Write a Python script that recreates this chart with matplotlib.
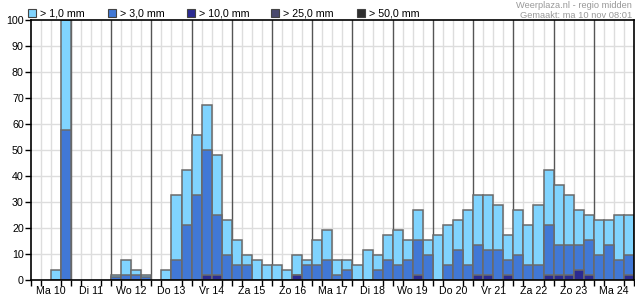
import matplotlib
matplotlib.use("Agg")
import matplotlib.pyplot as plt
from matplotlib.patches import Rectangle
import numpy as np

plt.rcParams['font.family'] = ['Liberation Sans', 'DejaVu Sans']

days = ["Ma 10", "Di 11", "Wo 12", "Do 13", "Vr 14", "Za 15", "Zo 16", "Ma 17",
        "Di 18", "Wo 19", "Do 20", "Vr 21", "Za 22", "Zo 23", "Ma 24"]

gt1 = [0, 0, 3.8, 100,
       0, 0, 0, 0,
       1.9, 7.7, 3.8, 1.9,
       0, 3.8, 32.7, 42.3,
       55.8, 67.3, 48.1, 23.1,
       15.4, 9.6, 7.7, 5.8,
       5.8, 3.8, 9.6, 7.7,
       15.4, 19.2, 7.7, 7.7,
       5.8, 11.5, 9.6, 17.3,
       19.2, 15.4, 26.9, 15.4,
       17.3, 21.2, 23.1, 26.9,
       32.7, 32.7, 28.8, 17.3,
       26.9, 21.2, 28.8, 42.3,
       36.5, 32.7, 26.9, 25.0,
       23.1, 23.1, 25.0, 25.0]
gt3 = [0, 0, 0, 57.7,
       0, 0, 0, 0,
       1.0, 1.9, 1.9, 1.0,
       0, 0, 7.7, 21.2,
       32.7, 50.0, 25.0, 9.6,
       5.8, 5.8, 0, 0,
       0, 0, 1.9, 5.8,
       5.8, 7.7, 1.9, 3.8,
       0, 0, 3.8, 7.7,
       5.8, 7.7, 15.4, 9.6,
       0, 5.8, 11.5, 5.8,
       13.5, 11.5, 11.5, 7.7,
       9.6, 5.8, 5.8, 21.2,
       13.5, 13.5, 13.5, 15.4,
       9.6, 13.5, 7.7, 9.6]
gt10 = [0, 0, 0, 0,
        0, 0, 0, 0,
        0, 0, 0, 0,
        0, 0, 0, 0,
        0, 1.9, 1.9, 0,
        0, 0, 0, 0,
        0, 0, 1.9, 0,
        0, 0, 0, 0,
        0, 0, 0, 0,
        0, 0, 1.9, 0,
        0, 0, 0, 0,
        1.9, 1.9, 0, 1.9,
        0, 0, 0, 1.9,
        1.9, 1.9, 3.8, 1.9,
        0, 0, 0, 1.9]
gt25 = [0] * 60
gt50 = [0] * 60

series = [gt1, gt3, gt10, gt25, gt50]
labels = ["> 1,0 mm", "> 3,0 mm", "> 10,0 mm", "> 25,0 mm", "> 50,0 mm"]
colors = ["#80D4FF", "#4178D6", "#2B2B92", "#4A4A6E", "#2E2E2E"]
yticks = list(range(0, 101, 10))

W, H = 635, 300
fig = plt.figure(figsize=(W / 100, H / 100), dpi=100)
ax = fig.add_axes([30.7 / W, 20 / H, (634 - 30.7) / W, 260 / H])

n = len(gt1)
nd = len(days)
per = n // nd
ax.set_xlim(0, n)
ax.set_ylim(0, 100)

# grid
for y in yticks[1:-1]:
    ax.axhline(y, color="#DDDDDD", lw=1, zorder=0)
for i in range(1, n):
    if i % per == 0:
        ax.axvline(i, color="#555555", lw=1, zorder=0.5)
    else:
        ax.axvline(i, color="#DDDDDD", lw=1, zorder=0)

x = np.arange(n) + 0.5
for k, (s, c) in enumerate(zip(series, colors)):
    s = np.array(s, dtype=float)
    m = s > 0
    if m.any():
        ax.bar(x[m], s[m], width=1.0, color=c, edgecolor="#6A6A6A",
               linewidth=1.1, zorder=2 + k)

ax.set_yticks(yticks)
ax.set_yticklabels([str(v) for v in yticks], fontsize=7.7)
ax.tick_params(axis='y', direction='out', length=4, width=1, pad=1)

ax.set_xticks(np.arange(nd) * per + per / 2)
ax.set_xticklabels(days, fontsize=7.7)
ax.set_xticks(np.arange(0, n + 1), minor=True)
ax.tick_params(axis='x', which='major', length=0, pad=4)
ax.tick_params(axis='x', which='minor', direction='out', length=4, width=1)

for sp in ax.spines.values():
    sp.set_color("black")
    sp.set_linewidth(1.2)
    sp.set_zorder(10)

# legend
lx = [28, 108, 187, 271, 357]
for xx, lab, c in zip(lx, labels, colors):
    fig.patches.append(Rectangle((xx / W, 1 - 17 / H), 8 / W, 8 / H,
                                 transform=fig.transFigure, facecolor=c,
                                 edgecolor="#444444", lw=0.8))
    fig.text((xx + 12) / W, 1 - 13 / H, lab, fontsize=7.7, va='center',
             ha='left', color="#000000")

fig.text(632 / W, 1 - 5 / H, "Weerplaza.nl - regio midden", fontsize=6.7,
         ha='right', va='center', color="#999999")
fig.text(632 / W, 1 - 15.5 / H, "Gemaakt: ma 10 nov 08:01", fontsize=6.7,
         ha='right', va='center', color="#999999")

fig.savefig("out.png", dpi=100)
